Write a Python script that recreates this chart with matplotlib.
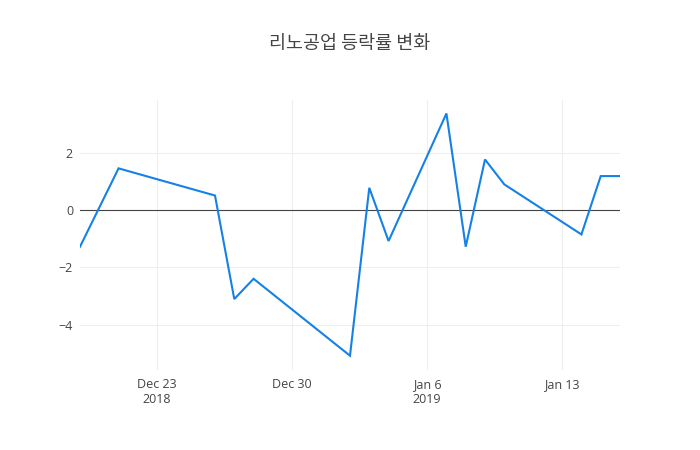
import matplotlib
matplotlib.use("Agg")
import matplotlib.pyplot as plt
import matplotlib.dates as mdates
import pandas as pd

plt.rcParams['font.family'] = ['Open Sans', 'Noto Sans CJK KR', 'DejaVu Sans']

dates = ["2018-12-19", "2018-12-21", "2018-12-26", "2018-12-27", "2018-12-28",
         "2019-01-02", "2019-01-03", "2019-01-04", "2019-01-07", "2019-01-08",
         "2019-01-09", "2019-01-10", "2019-01-14", "2019-01-15", "2019-01-16"]
values = [-1.28, 1.46, 0.51, -3.11, -2.40,
          -5.09, 0.78, -1.08, 3.38, -1.28,
          1.77, 0.90, -0.85, 1.19, 1.19]
title = "리노공업 등락률 변화"
xtick_dates = ["2018-12-23", "2018-12-30", "2019-01-06", "2019-01-13"]
xtick_labels = ["Dec 23\n2018", "Dec 30", "Jan 6\n2019", "Jan 13"]
ytick_values = [-4, -2, 0, 2]

x = pd.to_datetime(dates)

fig = plt.figure(figsize=(7, 4.5), dpi=100)
ax = fig.add_axes([80/700, 80/450, 540/700, 270/450])

ax.plot(x, values, color="#1581e6", linewidth=1.5, solid_joinstyle="miter", zorder=3)
ax.axhline(0, color="#444444", linewidth=0.8, zorder=2)

ax.set_xlim(x[0], x[-1])
ax.set_ylim(-5.59, 3.85)

ax.set_xticks(pd.to_datetime(xtick_dates))
ax.set_xticklabels(xtick_labels)
ax.set_yticks(ytick_values)
ax.set_yticklabels([f"\u2212{abs(v)}" if v < 0 else str(v) for v in ytick_values])

ax.grid(True, color="#eeeeee", linewidth=0.75, zorder=0)
ax.set_axisbelow(True)
for s in ax.spines.values():
    s.set_visible(False)
ax.tick_params(axis='both', length=0, labelsize=9, labelcolor="#444444")
ax.tick_params(axis='x', pad=6)
ax.tick_params(axis='y', pad=5)

fig.text(0.5, 1 - 44/450, title, ha='center', va='center', fontsize=13.3,
         color="#444444", family=['Noto Sans CJK KR', 'DejaVu Sans'])

fig.savefig("out.png", dpi=100, facecolor="white")
